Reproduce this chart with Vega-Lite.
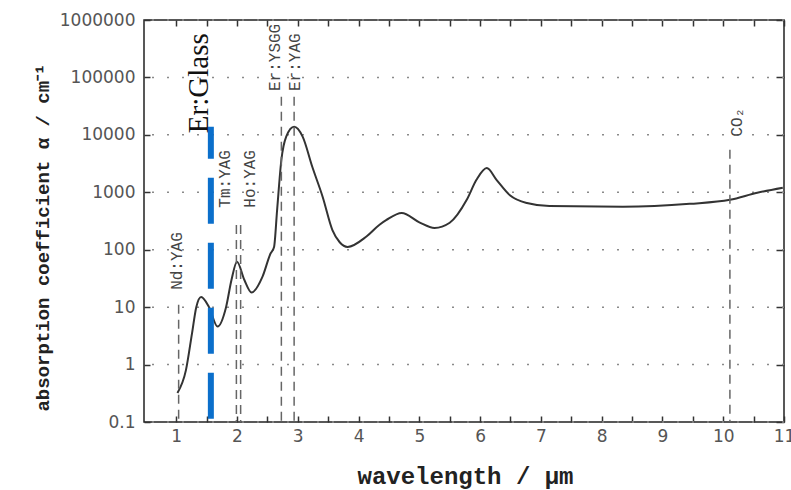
{
  "$schema": "https://vega.github.io/schema/vega-lite/v6.json",
  "width": 640,
  "height": 402,
  "autosize": "none",
  "padding": {"left": 144, "top": 20, "right": 7, "bottom": 68},
  "background": "white",
  "config": {
    "view": {"stroke": "#222", "strokeWidth": 1.5},
    "axis": {"domain": false}
  },
  "datasets": {
    "decades": [
      {"a": 0.1}, {"a": 1}, {"a": 10}, {"a": 100}, {"a": 1000}, {"a": 10000}, {"a": 100000}, {"a": 1000000}
    ],
    "curve": [
      {"wl": 1.02, "a": 0.32}, {"wl": 1.16, "a": 0.8}, {"wl": 1.26, "a": 3.5}, {"wl": 1.33, "a": 10},
      {"wl": 1.41, "a": 15}, {"wl": 1.54, "a": 10}, {"wl": 1.68, "a": 4.6}, {"wl": 1.82, "a": 10},
      {"wl": 1.91, "a": 30}, {"wl": 2.0, "a": 62}, {"wl": 2.12, "a": 30}, {"wl": 2.24, "a": 18},
      {"wl": 2.42, "a": 34}, {"wl": 2.55, "a": 85}, {"wl": 2.61, "a": 112}, {"wl": 2.66, "a": 490},
      {"wl": 2.73, "a": 3650}, {"wl": 2.81, "a": 9300}, {"wl": 2.94, "a": 13800}, {"wl": 3.08, "a": 9300},
      {"wl": 3.24, "a": 2750}, {"wl": 3.41, "a": 830}, {"wl": 3.57, "a": 220}, {"wl": 3.69, "a": 135},
      {"wl": 3.82, "a": 112}, {"wl": 4.13, "a": 170}, {"wl": 4.34, "a": 270}, {"wl": 4.46, "a": 330},
      {"wl": 4.71, "a": 435}, {"wl": 5.0, "a": 300}, {"wl": 5.25, "a": 240}, {"wl": 5.5, "a": 295},
      {"wl": 5.78, "a": 740}, {"wl": 5.94, "a": 1650}, {"wl": 6.11, "a": 2640}, {"wl": 6.27, "a": 1650},
      {"wl": 6.49, "a": 890}, {"wl": 6.77, "a": 650}, {"wl": 7.14, "a": 575}, {"wl": 8.35, "a": 560},
      {"wl": 9.45, "a": 630}, {"wl": 10.11, "a": 740}, {"wl": 10.56, "a": 980}, {"wl": 10.98, "a": 1200}
    ],
    "lasers": [
      {"laser": "Nd:YAG", "wl": 1.04, "top": 11, "lx": 1.02, "ly": 20},
      {"laser": "Tm:YAG", "wl": 1.99, "top": 270, "lx": 1.81, "ly": 540},
      {"laser": "Ho:YAG", "wl": 2.06, "top": 270, "lx": 2.22, "ly": 540},
      {"laser": "Er:YSGG", "wl": 2.73, "top": 46000, "lx": 2.63, "ly": 58000},
      {"laser": "Er:YAG", "wl": 2.94, "top": 46000, "lx": 2.96, "ly": 58000},
      {"laser": "CO₂", "wl": 10.11, "top": 5500, "lx": 10.22, "ly": 9300}
    ],
    "erglass": [
      {"laser": "Er:Glass", "wl": 1.57, "top": 13800, "lx": 1.38, "ly": 10700}
    ]
  },
  "layer": [
    {
      "data": {"name": "decades"},
      "mark": {"type": "rule", "color": "#8a8a8a", "strokeWidth": 1.5, "strokeDash": [2, 13]},
      "encoding": {
        "y": {"field": "a", "type": "quantitative", "axis": null}
      }
    },
    {
      "data": {"name": "curve"},
      "mark": {"type": "line", "interpolate": "monotone", "color": "#333", "strokeWidth": 2},
      "encoding": {
        "x": {
          "field": "wl", "type": "quantitative",
          "scale": {"domain": [0.47, 11], "nice": false, "zero": false},
          "axis": {
            "orient": "bottom",
            "values": [1, 1.5, 2, 2.5, 3, 3.5, 4, 4.5, 5, 5.5, 6, 6.5, 7, 7.5, 8, 8.5, 9, 9.5, 10, 10.5, 11],
            "labelExpr": "datum.value % 1 === 0 ? format(datum.value, 'd') : ''",
            "tickSize": -6,
            "tickColor": "#333", "tickWidth": 1.5,
            "grid": false,
            "labelFont": "DejaVu Sans", "labelFontSize": 17, "labelColor": "#555", "labelPadding": 12,
            "labelFlush": false, "labelOverlap": false,
            "title": "wavelength / μm",
            "titleFont": "Liberation Mono", "titleFontSize": 24, "titleFontWeight": "bold", "titleColor": "#222",
            "titleBaseline": "alphabetic", "titleY": 61, "titleX": 321
          }
        },
        "y": {
          "field": "a", "type": "quantitative",
          "scale": {"type": "log", "domain": [0.1, 1000000], "nice": false},
          "axis": {
            "orient": "left",
            "values": [0.1, 1, 10, 100, 1000, 10000, 100000, 1000000],
            "format": "~f",
            "tickSize": -6, "tickColor": "#333", "tickWidth": 1.5,
            "grid": false,
            "labelFont": "DejaVu Sans", "labelFontSize": 17, "labelColor": "#555", "labelPadding": 15,
            "title": "absorption coefficient α / cm⁻¹",
            "titleFont": "Liberation Mono", "titleFontSize": 19, "titleFontWeight": "bold", "titleColor": "#222",
            "titleAngle": 270, "titleAlign": "center", "titleBaseline": "middle",
            "titleX": -102, "titleY": 217
          }
        }
      }
    },
    {
      "data": {"name": "lasers"},
      "mark": {"type": "rule", "color": "#666", "strokeWidth": 1.5, "strokeDash": [9, 6]},
      "encoding": {
        "x": {
          "field": "wl", "type": "quantitative",
          "axis": {
            "orient": "top",
            "values": [1, 1.5, 2, 2.5, 3, 3.5, 4, 4.5, 5, 5.5, 6, 6.5, 7, 7.5, 8, 8.5, 9, 9.5, 10, 10.5, 11],
            "labels": false, "title": null, "grid": false,
            "tickSize": -6,
            "tickColor": "#333", "tickWidth": 1.5
          }
        },
        "y": {
          "field": "top", "type": "quantitative",
          "axis": {
            "orient": "right",
            "values": [0.1, 1, 10, 100, 1000, 10000, 100000, 1000000],
            "labels": false, "title": null, "grid": false,
            "tickSize": -8, "tickColor": "#333", "tickWidth": 1.5
          }
        },
        "y2": {"datum": 0.1}
      }
    },
    {
      "data": {"name": "erglass"},
      "mark": {"type": "rule", "color": "#0b6fcb", "strokeWidth": 6, "strokeDash": [46, 19], "strokeDashOffset": 14},
      "encoding": {
        "x": {"field": "wl", "type": "quantitative", "axis": null},
        "y": {"field": "top", "type": "quantitative", "axis": null},
        "y2": {"datum": 0.1}
      }
    },
    {
      "data": {"name": "lasers"},
      "mark": {"type": "text", "angle": 270, "align": "left", "baseline": "middle", "font": "Liberation Mono", "fontSize": 16, "color": "#444"},
      "encoding": {
        "x": {"field": "lx", "type": "quantitative", "axis": null},
        "y": {"field": "ly", "type": "quantitative", "axis": null},
        "text": {"field": "laser"}
      }
    },
    {
      "data": {"name": "erglass"},
      "mark": {"type": "text", "angle": 270, "align": "left", "baseline": "middle", "font": "Liberation Serif", "fontSize": 29, "color": "#111"},
      "encoding": {
        "x": {"field": "lx", "type": "quantitative", "axis": null},
        "y": {"field": "ly", "type": "quantitative", "axis": null},
        "text": {"field": "laser"}
      }
    }
  ],
  "resolve": {"axis": {"x": "independent", "y": "independent"}}
}
